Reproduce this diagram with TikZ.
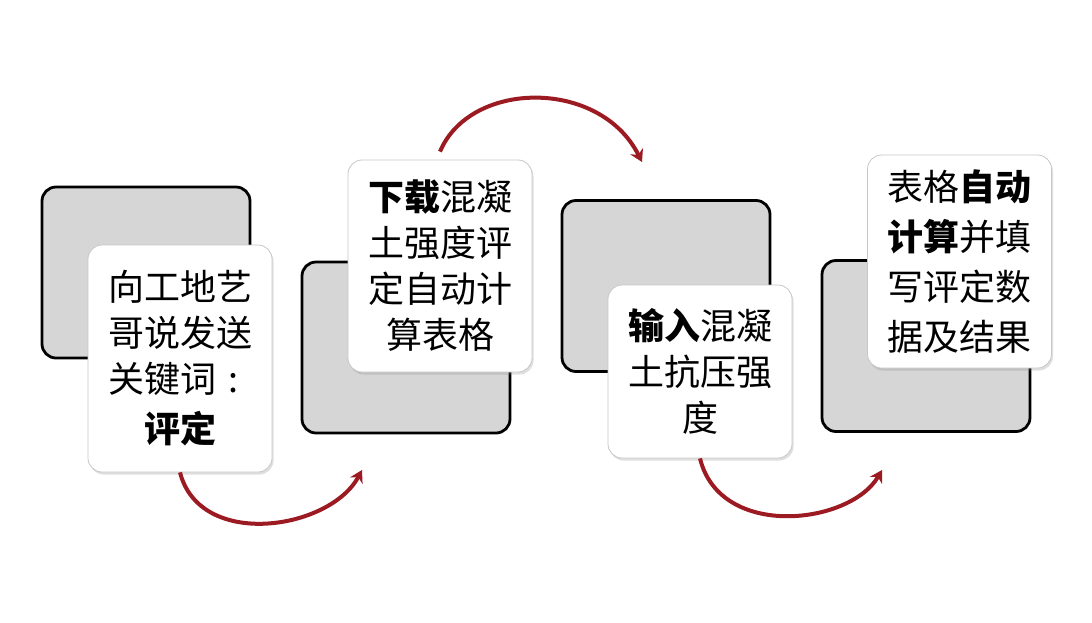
\documentclass[tikz,border=0pt]{standalone}
\usepackage{fontspec}
\setmainfont{Noto Sans CJK SC}
\usepackage{xcolor}
\usepackage{tikz}
\usetikzlibrary{arrows.meta,shadows}
\usetikzlibrary{calc,positioning}

\definecolor{boogrood}{HTML}{9C1A22}
\definecolor{achtergrijs}{HTML}{D6D6D6}

\tikzset{
  achter/.style={draw=black, line width=2.8pt, fill=achtergrijs,
    rounded corners=14pt, minimum width=208pt, minimum height=171pt},
  kaart/.style={draw=black!22, line width=0.8pt, fill=white,
    rounded corners=14pt, minimum width=184pt, align=center,
    font=\fontsize{36}{46}\selectfont,
    drop shadow={opacity=0.25, shadow xshift=1.5pt, shadow yshift=-2.5pt}},
  boog/.style={boogrood, line width=4pt, -{Stealth[length=12pt,width=14pt]}}
}

\begin{document}
\begin{tikzpicture}[x=1pt,y=-1pt]

    % Achtergrond
    \fill[white] (0,0) rectangle (1092,622);
    \useasboundingbox (0,0) rectangle (1092,622);

    % Grijze blokken
    \node[achter] (achter1) at (146,272.5) {};
    \node[achter] (achter2) at (406,347.5) {};
    \node[achter] (achter3) at (666,286) {};
    \node[achter] (achter4) at (926,346) {};

    % Kaarten
    \node[kaart, minimum height=227pt] (kaart1) at (180,358.5)
        {向工地艺\\哥说发送\\关键词\makebox[1em][c]{:}\\[4pt]{\bfseries 评定}};
    \node[kaart, minimum height=212pt] (kaart2) at (440,266)
        {{\bfseries 下载}混凝\\土强度评\\定自动计\\算表格};
    \node[kaart, minimum height=173pt] (kaart3) at (700,371.5)
        {{\bfseries 输入}混凝\\土抗压强\\度};
    \node[kaart, minimum height=213pt, font=\fontsize{36}{50}\selectfont] (kaart4) at (959.5,261.5)
        {表格{\bfseries 自动}\\{\bfseries 计算}并填\\写评定数\\据及结果};

    % Eindpunten van de bogen
    \coordinate (eind1) at (362,470);
    \coordinate (begin2) at ($(kaart2.north)+(0,-8)$);
    \coordinate (eind2) at (642,162);
    \coordinate (eind3) at (882,470);

    % Bogen
    \draw[boog] (kaart1.south) .. controls (200,550) and (330,530) .. (eind1);
    \draw[boog] (begin2) .. controls (470,80) and (600,78) .. (eind2);
    \draw[boog] (kaart3.south) .. controls (720,540) and (850,525) .. (eind3);

\end{tikzpicture}
\end{document}
